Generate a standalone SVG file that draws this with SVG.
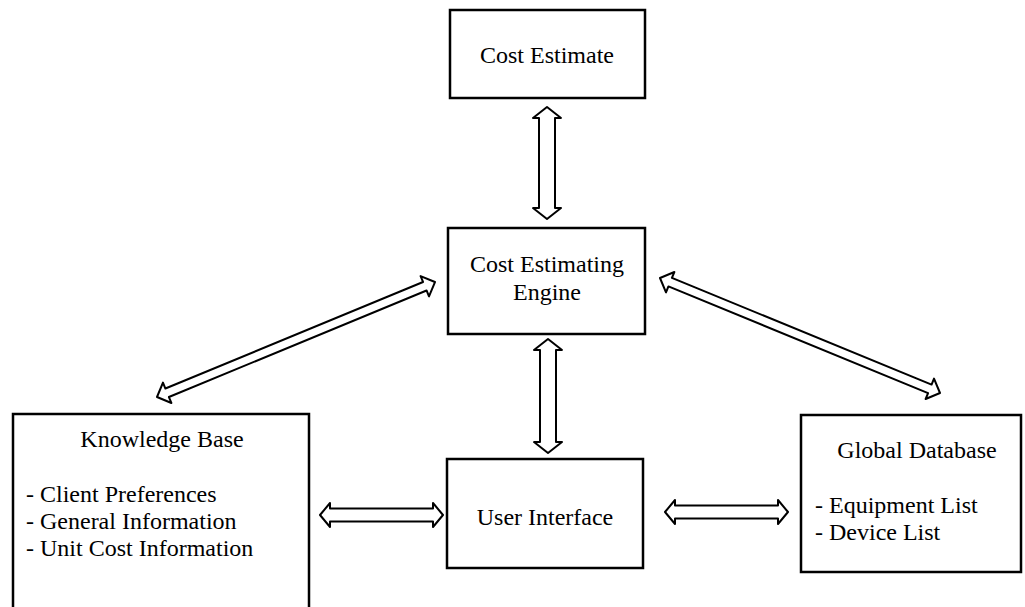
<svg xmlns="http://www.w3.org/2000/svg" width="1025" height="607" viewBox="0 0 1025 607">
<style>
.box{fill:#fff;stroke:#000;stroke-width:2.5}
.t{font-family:"Liberation Serif","Times New Roman",serif;font-size:24px;fill:#000}
.c{text-anchor:middle}
.arr{fill:#fff;stroke:#000;stroke-width:2;stroke-linejoin:round}
</style>
<rect width="1025" height="607" fill="#fff"/>
<g id="connectors">
<path class="arr" d="M547,107 L561,118 L555,118 L555,208 L561,208 L547,219 L533,208 L539,208 L539,118 L533,118 Z"/>
<path class="arr" d="M548,339 L562,350 L556,350 L556,442 L562,442 L548,453 L534,442 L540,442 L540,350 L534,350 Z"/>
<path class="arr" d="M320,515 L330,503 L330,508.5 L433,508.5 L433,503 L443,515 L433,527 L433,521.5 L330,521.5 L330,527 Z"/>
<path class="arr" d="M665,512 L675,500 L675,505.5 L778,505.5 L778,500 L788,512 L778,524 L778,518.5 L675,518.5 L675,524 Z"/>
<path class="arr" transform="translate(157,397) rotate(-22.47)" d="M0,0 L11,-11 L11,-4.6 L289.8,-4.6 L289.8,-11 L300.8,0 L289.8,11 L289.8,4.6 L11,4.6 L11,11 Z"/>
<path class="arr" transform="translate(660,278) rotate(22.33)" d="M0,0 L11,-11 L11,-4.6 L291.7,-4.6 L291.7,-11 L302.7,0 L291.7,11 L291.7,4.6 L11,4.6 L11,11 Z"/>
</g>
<g id="cost-estimate">
<rect class="box" x="450" y="10" width="195" height="88"/>
<text class="t c" x="547" y="63">Cost Estimate</text>
</g>
<g id="engine">
<rect class="box" x="448" y="228" width="197" height="106"/>
<text class="t c" x="547" y="272">Cost Estimating</text>
<text class="t c" x="547" y="300">Engine</text>
</g>
<g id="user-interface">
<rect class="box" x="447" y="459" width="196" height="109"/>
<text class="t c" x="545" y="525">User Interface</text>
</g>
<g id="knowledge-base">
<rect class="box" x="13" y="414" width="296" height="210"/>
<text class="t c" x="162" y="447">Knowledge Base</text>
<text class="t" x="26" y="502">- Client Preferences</text>
<text class="t" x="26" y="529">- General Information</text>
<text class="t" x="26" y="556">- Unit Cost Information</text>
</g>
<g id="global-database">
<rect class="box" x="801" y="415" width="220" height="157"/>
<text class="t c" x="917" y="458">Global Database</text>
<text class="t" x="815" y="513">- Equipment List</text>
<text class="t" x="815" y="540">- Device List</text>
</g>
</svg>
